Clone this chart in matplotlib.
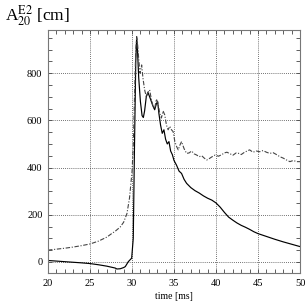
import matplotlib
matplotlib.use("Agg")
import matplotlib.pyplot as plt
from matplotlib.ticker import MultipleLocator

plt.rcParams['font.family'] = ['Liberation Serif', 'DejaVu Serif']
plt.rcParams['mathtext.fontset'] = 'stix'

solid_t = [20, 22, 24, 25, 26, 27, 28, 28.2, 28.6, 29.0, 29.2, 29.56, 29.96, 30.15,
           30.3, 30.45, 30.56, 30.65, 30.8, 31.0, 31.2, 31.35, 31.5, 31.7, 31.9, 32.1,
           32.3, 32.5, 32.7, 32.9, 33.05, 33.2, 33.4, 33.6, 33.8, 34.0, 34.2, 34.4,
           34.6, 34.8, 35.0, 35.3, 35.6, 35.9, 36.2, 36.5, 37.0, 37.5, 38.0, 38.5,
           39.0, 39.5, 40.0, 40.5, 41.0, 41.5, 42.0, 42.5, 43.0, 43.5, 44.0, 44.5,
           45.0, 46.0, 47.0, 48.0, 49.0, 50.0]
solid_v = [6, 1, -4, -7, -12, -18, -26, -30, -29, -24, -20, 1, 16, 100,
           500, 850, 955, 900, 780, 680, 620, 612, 640, 700, 718, 700,
           680, 660, 645, 670, 680, 630, 580, 545, 560, 520, 500, 510,
           470, 455, 430, 410, 385, 375, 350, 333, 315, 302, 292, 280,
           270, 262, 250, 232, 210, 190, 177, 165, 155, 147, 138, 128,
           120, 108, 96, 85, 75, 65]

dash_t = [20, 21, 22, 23, 24, 25, 26, 27, 27.5, 28, 28.6, 29.0, 29.4, 29.7, 30.0,
          30.15, 30.3, 30.45, 30.55, 30.65, 30.8, 30.95, 31.15, 31.3, 31.5, 31.7,
          31.9, 32.1, 32.3, 32.5, 32.7, 32.9, 33.1, 33.3, 33.5, 33.7, 33.9, 34.1,
          34.3, 34.5, 34.7, 34.9, 35.1, 35.3, 35.5, 35.7, 35.9, 36.2, 36.5, 36.8,
          37.1, 37.4, 37.7, 38.0, 38.3, 38.6, 38.9, 39.2, 39.5, 39.9, 40.3, 40.7,
          41.0, 41.3, 41.7, 42.0, 42.4, 42.7, 43.0, 43.4, 43.7, 44.0, 44.4, 44.8,
          45.2, 45.6, 46.0, 46.4, 46.8, 47.2, 47.6, 48.0, 48.4, 48.8, 49.2, 49.6, 50.0]
dash_v = [50, 54, 58, 63, 69, 76, 88, 105, 118, 130, 148, 168, 205, 270, 380,
          490, 700, 900, 950, 930, 860, 800, 835, 780, 730, 700,
          720, 729, 690, 660, 650, 690, 672, 630, 610, 640, 623, 580,
          560, 575, 560, 552, 510, 490, 475, 495, 510, 480, 460, 462,
          470, 458, 453, 446, 450, 440, 432, 438, 445, 453, 448, 455,
          462, 465, 458, 452, 462, 460, 455, 465, 470, 475, 465, 470,
          467, 472, 465, 460, 463, 455, 446, 440, 432, 425, 430, 425, 425]

x_ticks = [20, 25, 30, 35, 40, 45, 50]
y_ticks = [0, 200, 400, 600, 800]

fig = plt.figure(figsize=(3.05, 3.05), dpi=100)
ax = fig.add_axes([48/305, 1-273/305, 252/305, 243/305])

ax.plot(solid_t, solid_v, color='black', lw=0.85)
ax.plot(dash_t, dash_v, color='#444444', lw=0.8, linestyle=(0, (4, 1.5, 1, 1.5)))

ax.set_xlim(20, 50)
ax.set_ylim(-47, 983)
ax.set_xticks(x_ticks)
ax.set_yticks(y_ticks)
ax.xaxis.set_minor_locator(MultipleLocator(1))
ax.yaxis.set_minor_locator(MultipleLocator(50))
ax.tick_params(which='both', direction='in', top=True, right=True, length=3,
               width=0.6, color='#444444', labelsize=7.5, pad=4)
ax.grid(True, which='major', color='#444444', lw=0.6, linestyle=(0, (1, 1.5)))
for s in ax.spines.values():
    s.set_color('#777777')
    s.set_linewidth(0.8)

ax.set_xlabel('time [ms]', fontsize=7, labelpad=3)
fig.text(5/305, 1-16/305, r'A$_{20}^{\mathrm{E2}}$ [cm]', fontsize=12.5, va='center', ha='left')

fig.savefig('out.png', dpi=100)
